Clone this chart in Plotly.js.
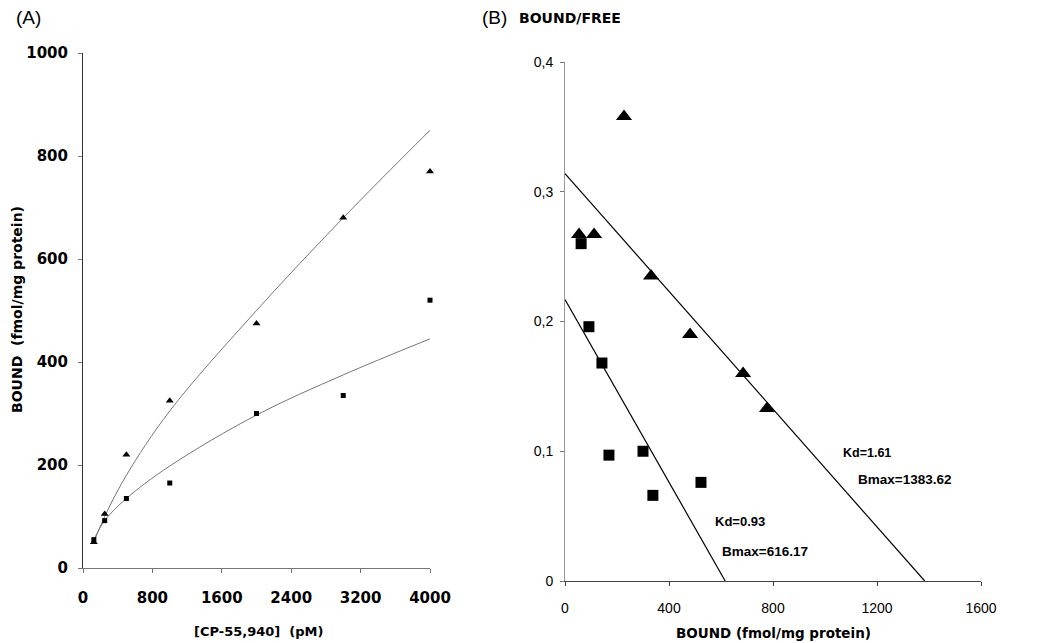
<!DOCTYPE html>
<html>
<head>
<meta charset="utf-8">
<script src="https://cdn.plot.ly/plotly-3.0.1.min.js"></script>
<style>html,body{margin:0;padding:0;background:#fff;}#chart{width:1046px;height:643px;}</style>
</head>
<body>
<div id="chart"></div>
<script>
// Panel A: saturation binding
const concA = [125, 250, 500, 1000, 2000, 3000, 4000];
const boundTri = [50, 105, 220, 325, 475, 680, 770];
const boundSq = [55, 92, 135, 165, 300, 335, 520];
const curveX = [125, 250, 500, 1000, 2000, 3000, 4000];
const curveTri = [50, 100, 180, 305, 500, 680, 850];
const curveSq = [55, 92, 135, 198, 297, 375, 445];
const ticksA_x = [0, 800, 1600, 2400, 3200, 4000];
const ticksA_y = [0, 200, 400, 600, 800, 1000];

// Panel B: Scatchard
const boundBTri = [54, 112, 227, 331, 481, 685, 777];
const ratioTri = [0.267, 0.267, 0.358, 0.235, 0.19, 0.16, 0.133];
const boundBSq = [62, 92, 142, 169, 300, 338, 523];
const ratioSq = [0.26, 0.196, 0.168, 0.097, 0.1, 0.066, 0.076];
const triLineX = [0, 1383.62];
const triLineY = [0.314, 0];
const sqLineX = [0, 616.17];
const sqLineY = [0.217, 0];
const ticksB_x = [0, 400, 800, 1200, 1600];
const ticksB_y = [0, 0.1, 0.2, 0.3, 0.4];
const ticksB_yText = ['0', '0,1', '0,2', '0,3', '0,4'];

const W = 1046, H = 643;
const px = v => v / W;
const py = v => 1 - v / H;
const F = 'Liberation Sans, Arial, sans-serif';
const FB = 'DejaVu Sans, Liberation Sans, sans-serif';

const traces = [
  {x: curveX, y: curveTri, mode: 'lines', line: {color: '#777', width: 1, shape: 'spline'}, xaxis: 'x', yaxis: 'y', hoverinfo: 'skip'},
  {x: curveX, y: curveSq, mode: 'lines', line: {color: '#777', width: 1, shape: 'spline'}, xaxis: 'x', yaxis: 'y', hoverinfo: 'skip'},
  {x: concA, y: boundTri, mode: 'markers', marker: {symbol: 'triangle-up', size: 7, color: '#000'}, xaxis: 'x', yaxis: 'y', cliponaxis: false},
  {x: concA, y: boundSq, mode: 'markers', marker: {symbol: 'square', size: 5, color: '#000'}, xaxis: 'x', yaxis: 'y', cliponaxis: false},
  {x: triLineX, y: triLineY, mode: 'lines', line: {color: '#000', width: 1.2}, xaxis: 'x2', yaxis: 'y2'},
  {x: sqLineX, y: sqLineY, mode: 'lines', line: {color: '#000', width: 1.2}, xaxis: 'x2', yaxis: 'y2'},
  {x: boundBSq, y: ratioSq, mode: 'markers', marker: {symbol: 'square', size: 11, color: '#000'}, xaxis: 'x2', yaxis: 'y2', cliponaxis: false},
  {x: boundBTri, y: ratioTri, mode: 'markers', marker: {symbol: 'triangle-up', size: 14, color: '#000'}, xaxis: 'x2', yaxis: 'y2', cliponaxis: false}
];

const axBase = {showgrid: false, zeroline: false, showline: true, linecolor: '#777', linewidth: 1,
  ticks: 'outside', ticklen: 4, tickcolor: '#777', fixedrange: true};

const layout = {
  width: W, height: H, showlegend: false,
  margin: {l: 0, r: 0, t: 0, b: 0},
  paper_bgcolor: '#fff', plot_bgcolor: 'rgba(0,0,0,0)',
  xaxis: Object.assign({}, axBase, {domain: [px(83), px(430)], range: [0, 4000], anchor: 'y',
    tickvals: ticksA_x, ticklabelstandoff: 12, tickfont: {family: FB, size: 15, weight: 'bold', color: '#000'}}),
  yaxis: Object.assign({}, axBase, {domain: [1 - 568 / H, 1 - 53 / H], range: [0, 1000], anchor: 'x',
    tickvals: ticksA_y, ticklabelstandoff: 7, linecolor: '#333', tickfont: {family: FB, size: 15, weight: 'bold', color: '#000'}}),
  xaxis2: Object.assign({}, axBase, {domain: [px(565), px(981)], range: [0, 1600], anchor: 'y2',
    tickvals: ticksB_x, ticklabelstandoff: 10, linecolor: '#444', tickcolor: '#444',
    tickfont: {family: F, size: 14, color: '#000'}}),
  yaxis2: Object.assign({}, axBase, {domain: [1 - 581 / H, 1 - 62 / H], range: [0, 0.4], anchor: 'x2',
    tickvals: ticksB_y, ticktext: ticksB_yText, ticklabelstandoff: 4, linecolor: '#999',
    tickfont: {family: F, size: 14, color: '#000'}}),
  annotations: [
    {text: '(A)', x: px(14), y: py(17), xref: 'paper', yref: 'paper', xanchor: 'left', yanchor: 'middle', showarrow: false, font: {family: F, size: 19, color: '#000'}},
    {text: '(B)', x: px(480), y: py(17), xref: 'paper', yref: 'paper', xanchor: 'left', yanchor: 'middle', showarrow: false, font: {family: F, size: 19, color: '#000'}},
    {text: 'BOUND/FREE', x: px(517), y: py(18), xref: 'paper', yref: 'paper', xanchor: 'left', yanchor: 'middle', showarrow: false, font: {family: FB, size: 14, weight: 'bold', color: '#000'}},
    {text: '[CP-55,940]  (pM)', x: px(258), y: py(631), xref: 'paper', yref: 'paper', xanchor: 'center', yanchor: 'middle', showarrow: false, font: {family: FB, size: 13, weight: 'bold', color: '#000'}},
    {text: 'BOUND (fmol/mg protein)', x: px(773), y: py(633), xref: 'paper', yref: 'paper', xanchor: 'center', yanchor: 'middle', showarrow: false, font: {family: FB, size: 13.5, weight: 'bold', color: '#000'}},
    {text: 'BOUND  (fmol/mg protein)', x: px(17), y: py(310), xref: 'paper', yref: 'paper', xanchor: 'center', yanchor: 'middle', textangle: -90, showarrow: false, font: {family: FB, size: 14, weight: 'bold', color: '#000'}},
    {text: 'Kd=1.61', x: 1161, y: 0.0987, xref: 'x2', yref: 'y2', showarrow: false, font: {family: F, size: 12.5, weight: 'bold', color: '#000'}},
    {text: 'Bmax=1383.62', x: 1304, y: 0.078, xref: 'x2', yref: 'y2', showarrow: false, font: {family: F, size: 13.5, weight: 'bold', color: '#000'}},
    {text: 'Kd=0.93', x: 673, y: 0.0455, xref: 'x2', yref: 'y2', showarrow: false, font: {family: F, size: 13, weight: 'bold', color: '#000'}},
    {text: 'Bmax=616.17', x: 769, y: 0.0231, xref: 'x2', yref: 'y2', showarrow: false, font: {family: F, size: 13.5, weight: 'bold', color: '#000'}}
  ]
};

Plotly.newPlot('chart', traces, layout, {displayModeBar: false, staticPlot: true});
</script>
</body>
</html>
